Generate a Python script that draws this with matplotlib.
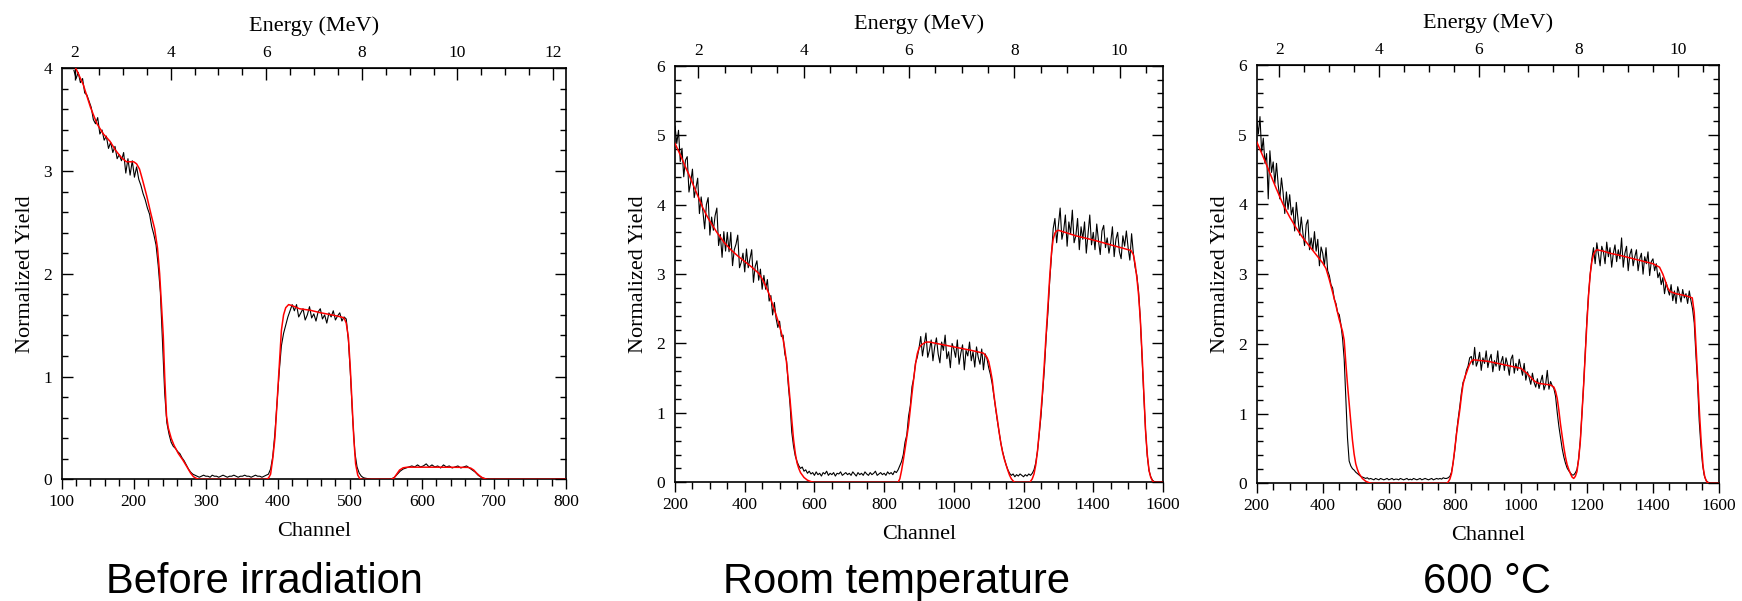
import numpy as np
import matplotlib
matplotlib.use("Agg")
import matplotlib.pyplot as plt
from matplotlib.ticker import MultipleLocator, FixedLocator

plt.rcParams['font.family'] = 'Liberation Serif'

# ---------------- Before irradiation ----------------
# measured spectrum, channels 117..519 step 3
p1_meas_a = [
    3.98, 3.90, 3.96, 3.86, 3.90, 3.76, 3.74, 3.68, 3.62, 3.50,
    3.46, 3.52, 3.36, 3.40, 3.30, 3.34, 3.22, 3.28, 3.18, 3.24,
    3.12, 3.16, 3.10, 3.18, 2.98, 3.12, 2.96, 3.10, 2.94, 3.04,
    2.92, 2.86, 2.78, 2.72, 2.64, 2.58, 2.46, 2.38, 2.28, 2.08,
    1.82, 1.32, 0.84, 0.55, 0.44, 0.36, 0.32, 0.30, 0.27, 0.25,
    0.21, 0.18, 0.14, 0.10, 0.07, 0.05, 0.04,
    0.03, 0.02, 0.03, 0.04, 0.03, 0.03, 0.02, 0.04, 0.03, 0.03,
    0.02, 0.03, 0.04, 0.03, 0.02, 0.03, 0.03, 0.04, 0.03, 0.02,
    0.03, 0.03, 0.04, 0.03, 0.03, 0.02, 0.03, 0.04, 0.03, 0.03,
    0.02, 0.03, 0.04,
    0.05, 0.10, 0.22, 0.45, 0.75, 1.05, 1.30, 1.42, 1.50, 1.58,
    1.64, 1.70,
    1.64, 1.70, 1.58, 1.62, 1.66, 1.55, 1.60, 1.68, 1.57, 1.61,
    1.54, 1.63, 1.66, 1.56, 1.60, 1.52, 1.62, 1.58, 1.64, 1.55,
    1.59, 1.62, 1.54, 1.58,
    1.56, 1.35, 1.00, 0.58, 0.26, 0.12, 0.06, 0.03, 0.015]
# channels 522..798 step 4
p1_meas_b = [
    0.01, 0.005, 0, 0, 0, 0, 0, 0, 0, 0.005,
    0.02, 0.05, 0.08, 0.10, 0.11, 0.12, 0.13, 0.12, 0.14, 0.12,
    0.13, 0.15, 0.12, 0.14, 0.12, 0.13, 0.11, 0.14, 0.12, 0.13,
    0.11, 0.12, 0.13, 0.11, 0.12, 0.13, 0.11, 0.09, 0.07, 0.04,
    0.02, 0.01, 0.005, 0, 0, 0, 0, 0, 0, 0,
    0, 0, 0, 0, 0, 0, 0, 0, 0, 0,
    0, 0, 0, 0, 0, 0, 0, 0, 0, 0]
p1_fit_ch = [118, 121, 130, 140, 149, 158, 167, 175, 183, 190,
             195, 200, 204, 208, 212, 218, 224, 229, 233, 236,
             238.5, 241, 243, 245.5, 248, 252, 256, 262, 268, 274,
             279, 283, 288, 292, 383, 387, 390, 393, 396, 399,
             402, 405, 408, 411, 415, 420, 430, 445, 460, 475,
             488, 492, 495, 498, 500.5, 503, 505.5, 508, 511, 514,
             517, 557, 561, 565, 569, 574, 580, 620, 664, 668,
             672, 676, 680, 684, 688, 692, 800]
p1_fit_y = [4.02, 3.98, 3.84, 3.62, 3.46, 3.36, 3.29, 3.20, 3.13, 3.09,
            3.09, 3.09, 3.07, 3.02, 2.92, 2.76, 2.58, 2.44, 2.25, 2.0,
            1.70, 1.40, 1.0, 0.62, 0.50, 0.40, 0.33, 0.25, 0.19, 0.12,
            0.06, 0.025, 0.005, 0, 0, 0.01, 0.05, 0.2, 0.4, 0.75,
            1.1, 1.45, 1.6, 1.67, 1.70, 1.69, 1.66, 1.645, 1.62, 1.60,
            1.58, 1.57, 1.52, 1.38, 1.1, 0.75, 0.4, 0.15, 0.04, 0.005,
            0, 0, 0.01, 0.05, 0.09, 0.112, 0.118, 0.118, 0.116, 0.108,
            0.09, 0.06, 0.035, 0.015, 0.004, 0, 0]

# ---------------- Room temperature ----------------
# measured spectrum, channels 200..1600 step 5
p2_meas = [
    5.13, 4.88, 5.07, 4.62, 4.81, 4.40, 4.64, 4.69, 4.18, 4.32,
    4.51, 4.10, 4.24, 4.38, 3.87, 4.11, 3.90, 3.65, 4.00, 4.10,
    3.56, 3.82, 3.63, 3.84, 3.95, 3.41, 3.57, 3.24, 3.61, 3.33,
    3.60, 3.32, 3.60, 3.12, 3.35, 3.43, 3.56, 3.09, 3.17, 3.30,
    3.03, 3.36, 3.09, 3.22, 3.35, 2.88, 3.11, 3.19, 2.91, 3.07,
    2.78, 2.98, 2.78, 2.92, 2.61, 2.69, 2.41, 2.59, 2.36, 2.23,
    2.32, 2.10, 2.12, 1.85, 1.75, 1.40, 1.12, 0.72, 0.52, 0.38,
    0.30, 0.24, 0.20, 0.22, 0.16, 0.18, 0.13, 0.16, 0.12, 0.14,
    0.10, 0.15, 0.11, 0.13, 0.09, 0.14, 0.12, 0.16, 0.10, 0.13,
    0.11, 0.14, 0.09, 0.13, 0.12, 0.15, 0.10, 0.12, 0.14, 0.11,
    0.13, 0.10, 0.15, 0.12, 0.09, 0.14, 0.11, 0.13, 0.10, 0.15,
    0.12, 0.10, 0.14, 0.11, 0.13, 0.16, 0.10, 0.12, 0.14, 0.11,
    0.13, 0.10, 0.15, 0.12, 0.14, 0.11, 0.16, 0.14, 0.18, 0.24,
    0.30, 0.40, 0.58, 0.68, 0.95, 1.10, 1.38, 1.50, 1.72, 1.80,
    1.93, 2.10, 1.82, 1.98, 2.15, 1.80, 1.90, 2.05, 1.75, 1.95,
    2.08, 1.85, 1.72, 2.02, 1.90, 2.12, 1.78, 1.88, 1.65, 2.00,
    1.92, 1.80, 2.05, 1.70, 1.86, 1.98, 1.62, 1.90, 1.82, 2.02,
    1.75, 1.88, 1.66, 1.95, 1.80, 1.70, 1.92, 1.62, 1.85, 1.78,
    1.65, 1.55, 1.42, 1.24, 1.06, 0.88, 0.72, 0.56, 0.44, 0.34,
    0.25, 0.18, 0.13, 0.10, 0.12, 0.08, 0.11, 0.09, 0.12, 0.10,
    0.08, 0.11, 0.09, 0.12, 0.10, 0.13, 0.18, 0.28, 0.45, 0.70,
    0.95, 1.30, 1.65, 2.10, 2.45, 2.90, 3.25, 3.65, 3.80, 3.45,
    3.70, 3.95, 3.50, 3.62, 3.85, 3.40, 3.75, 3.58, 3.92, 3.45,
    3.55, 3.80, 3.35, 3.68, 3.50, 3.75, 3.30, 3.58, 3.85, 3.42,
    3.60, 3.35, 3.72, 3.48, 3.28, 3.62, 3.70, 3.38, 3.52, 3.30,
    3.45, 3.68, 3.25, 3.50, 3.60, 3.32, 3.22, 3.55, 3.40, 3.62,
    3.38, 3.20, 3.58, 3.30, 3.10, 2.98, 2.75, 2.35, 1.80, 1.25,
    0.75, 0.38, 0.17, 0.08, 0.03, 0.01, 0.0, 0.0, 0.0, 0.0,
    0.0]
p2_fit_ch = [200, 210, 220, 230, 240, 250, 260, 270, 280, 290,
             300, 320, 340, 360, 380, 400, 420, 440, 450, 460,
             470, 480, 490, 500, 510, 515, 520, 525, 530, 535,
             540, 545, 550, 555, 560, 570, 580, 590, 600, 840,
             845, 850, 855, 860, 865, 870, 875, 880, 885, 890,
             895, 900, 905, 910, 920, 930, 950, 1000, 1050, 1085,
             1095, 1100, 1105, 1110, 1115, 1120, 1125, 1130, 1135, 1140,
             1145, 1150, 1155, 1160, 1165, 1170, 1175, 1218, 1225, 1230,
             1235, 1240, 1245, 1250, 1255, 1260, 1265, 1270, 1275, 1280,
             1285, 1290, 1295, 1300, 1350, 1400, 1450, 1500, 1508, 1515,
             1520, 1525, 1530, 1535, 1540, 1545, 1550, 1555, 1560, 1565,
             1570, 1575, 1600]
p2_fit_y = [4.88, 4.77, 4.66, 4.54, 4.43, 4.31, 4.19, 4.07, 3.95, 3.85,
            3.76, 3.60, 3.46, 3.35, 3.26, 3.18, 3.10, 3.01, 2.93, 2.83,
            2.71, 2.56, 2.41, 2.25, 2.06, 1.92, 1.72, 1.47, 1.19, 0.90,
            0.62, 0.42, 0.28, 0.20, 0.14, 0.07, 0.03, 0.01, 0, 0,
            0.05, 0.17, 0.32, 0.48, 0.65, 0.82, 1.05, 1.28, 1.50, 1.70,
            1.85, 1.93, 1.97, 1.99, 2.02, 2.02, 2.0, 1.95, 1.90, 1.86,
            1.80, 1.74, 1.62, 1.48, 1.26, 1.07, 0.90, 0.72, 0.56, 0.43,
            0.33, 0.25, 0.17, 0.10, 0.05, 0.02, 0, 0, 0.05, 0.12,
            0.25, 0.45, 0.72, 1.02, 1.35, 1.74, 2.15, 2.55, 2.95, 3.30,
            3.50, 3.59, 3.62, 3.63, 3.55, 3.49, 3.42, 3.35, 3.34, 3.28,
            3.15, 2.95, 2.70, 2.35, 1.85, 1.30, 0.75, 0.40, 0.17, 0.07,
            0.02, 0, 0]

# ---------------- 600 C ----------------
p3_meas = [
    5.22, 5.01, 5.26, 4.75, 4.95, 4.59, 4.73, 4.08, 4.77, 4.46,
    4.61, 4.30, 4.59, 4.29, 4.08, 4.38, 4.17, 3.87, 4.18, 3.93,
    4.14, 3.85, 3.96, 3.62, 4.03, 3.79, 3.56, 3.82, 3.59, 3.41,
    3.71, 3.78, 3.35, 3.52, 3.34, 3.61, 3.33, 3.50, 3.12, 3.39,
    3.30, 3.12, 3.38, 3.05, 2.98, 2.85, 2.80, 2.64, 2.58, 2.45,
    2.42, 2.28, 2.08, 1.78, 1.20, 0.65, 0.32, 0.25, 0.21, 0.19,
    0.16, 0.14, 0.12, 0.10, 0.09, 0.08, 0.07, 0.08, 0.06, 0.07,
    0.06, 0.05, 0.07, 0.06, 0.05, 0.07, 0.06, 0.05, 0.06, 0.07,
    0.05, 0.06, 0.07, 0.05, 0.06, 0.06, 0.05, 0.07, 0.06, 0.05,
    0.06, 0.07, 0.05, 0.06, 0.05, 0.07, 0.06, 0.05, 0.06, 0.07,
    0.05, 0.06, 0.07, 0.06, 0.05, 0.06, 0.07, 0.05, 0.06, 0.07,
    0.06, 0.07, 0.06, 0.08, 0.07, 0.07, 0.08, 0.10, 0.16, 0.30,
    0.48, 0.72, 0.92, 1.10, 1.30, 1.45, 1.50, 1.62, 1.68, 1.80,
    1.82, 1.70, 1.95, 1.68, 1.75, 1.88, 1.62, 1.80, 1.72, 1.90,
    1.66, 1.78, 1.85, 1.60, 1.76, 1.68, 1.90, 1.62, 1.74, 1.82,
    1.62, 1.80, 1.70, 1.55, 1.78, 1.84, 1.58, 1.72, 1.62, 1.78,
    1.66, 1.55, 1.72, 1.48, 1.60, 1.52, 1.42, 1.58, 1.45, 1.38,
    1.50, 1.36, 1.46, 1.55, 1.34, 1.42, 1.62, 1.35, 1.46, 1.40,
    1.36, 1.25, 1.02, 0.82, 0.66, 0.50, 0.38, 0.29, 0.22, 0.18,
    0.15, 0.12, 0.12, 0.15, 0.20, 0.35, 0.62, 1.00, 1.42, 1.88,
    2.35, 2.72, 3.00, 3.22, 3.38, 3.15, 3.45, 3.28, 3.12, 3.40,
    3.32, 3.15, 3.46, 3.25, 3.38, 3.10, 3.30, 3.42, 3.18, 3.35,
    3.22, 3.52, 3.10, 3.30, 3.40, 3.05, 3.28, 3.36, 3.12, 3.25,
    3.35, 3.05, 3.22, 3.30, 3.00, 3.25, 3.15, 3.32, 2.98, 3.18,
    3.22, 3.05, 3.15, 2.95, 3.02, 2.85, 2.95, 2.72, 2.88, 2.78,
    2.70, 2.85, 2.62, 2.76, 2.58, 2.82, 2.72, 2.60, 2.78, 2.66,
    2.72, 2.58, 2.76, 2.62, 2.50, 2.30, 1.85, 1.45, 0.90, 0.55,
    0.28, 0.12, 0.05, 0.02, 0.01, 0.0, 0.0, 0.0, 0.0, 0.0,
    0.0]
p3_fit_ch = [200, 220, 240, 260, 280, 300, 320, 340, 360, 380,
             400, 410, 420, 430, 440, 450, 460, 465, 470, 475,
             480, 485, 490, 495, 500, 505, 510, 520, 530, 540,
             550, 775, 780, 785, 790, 795, 800, 805, 810, 815,
             820, 825, 830, 835, 840, 845, 850, 855, 860, 900,
             950, 1000, 1010, 1020, 1030, 1040, 1050, 1060, 1090, 1100,
             1105, 1110, 1115, 1120, 1125, 1130, 1135, 1140, 1145, 1150,
             1155, 1160, 1165, 1170, 1175, 1180, 1185, 1190, 1195, 1200,
             1205, 1210, 1215, 1220, 1225, 1230, 1250, 1270, 1300, 1350,
             1400, 1420, 1430, 1436, 1445, 1452, 1470, 1500, 1519, 1525,
             1530, 1535, 1541, 1546, 1552, 1557, 1563, 1570, 1600]
p3_fit_y = [4.90, 4.68, 4.45, 4.22, 4.00, 3.82, 3.66, 3.52, 3.40, 3.28,
            3.16, 3.08, 2.92, 2.74, 2.55, 2.35, 2.18, 2.05, 1.72, 1.42,
            1.15, 0.88, 0.62, 0.42, 0.28, 0.20, 0.14, 0.07, 0.03, 0.01,
            0, 0, 0.02, 0.06, 0.14, 0.30, 0.50, 0.70, 0.88, 1.05,
            1.25, 1.42, 1.52, 1.58, 1.65, 1.71, 1.75, 1.77, 1.77, 1.75,
            1.70, 1.65, 1.61, 1.57, 1.52, 1.47, 1.44, 1.43, 1.41, 1.38,
            1.32, 1.22, 1.05, 0.85, 0.68, 0.52, 0.38, 0.27, 0.20, 0.14,
            0.09, 0.07, 0.10, 0.17, 0.35, 0.60, 1.0, 1.40, 1.85, 2.30,
            2.70, 3.00, 3.18, 3.28, 3.33, 3.35, 3.33, 3.30, 3.27, 3.21,
            3.15, 3.10, 3.00, 2.92, 2.80, 2.75, 2.72, 2.69, 2.66, 2.45,
            2.0, 1.55, 1.0, 0.6, 0.23, 0.09, 0.02, 0, 0]

# energy calibration E = gain*channel + offset
p1_gain, p1_offset = 0.01507, 0.214
p2_gain, p2_offset = 0.006618, 0.2343
p3_gain, p3_offset = 0.006627, 0.2213

captions = ["Before irradiation", "Room temperature", "600 \u00b0C"]

p1_ch_a = np.arange(117, 520, 3)
p1_ch_b = np.arange(522, 799, 4)
p1_ch = np.concatenate([p1_ch_a, p1_ch_b])
p1_meas = np.concatenate([p1_meas_a, p1_meas_b])
p23_ch = np.arange(200, 1601, 5)

fig = plt.figure(figsize=(17.42, 6.01), dpi=100)

panels = [
    ([0.0354, 0.2025, 0.2895, 0.6839], p1_ch, p1_meas, p1_fit_ch, p1_fit_y,
     (100, 800), 100, 20, 4, p1_gain, p1_offset),
    ([0.3875, 0.1975, 0.2801, 0.6932], p23_ch, p2_meas, p2_fit_ch, p2_fit_y,
     (200, 1600), 200, 50, 6, p2_gain, p2_offset),
    ([0.7214, 0.1958, 0.2654, 0.6960], p23_ch, p3_meas, p3_fit_ch, p3_fit_y,
     (200, 1600), 200, 50, 6, p3_gain, p3_offset),
]

for rect, ch, meas, fch, fy, xlim, xmaj, xmin, ytop, g, o in panels:
    ax = fig.add_axes(rect)
    ax.plot(ch, meas, color='black', lw=0.8, zorder=2)
    ax.plot(fch, fy, color='red', lw=1.1, zorder=3)
    ax.set_xlim(*xlim)
    ax.set_ylim(0, ytop)
    ax.xaxis.set_major_locator(MultipleLocator(xmaj))
    ax.xaxis.set_minor_locator(MultipleLocator(xmin))
    ax.yaxis.set_major_locator(MultipleLocator(1))
    ax.yaxis.set_minor_locator(MultipleLocator(0.2))
    ax.tick_params(axis='x', which='both', direction='out', top=False,
                   labelsize=12.5, pad=3, width=1)
    ax.tick_params(axis='x', which='major', length=7.5)
    ax.tick_params(axis='x', which='minor', length=5)
    ax.tick_params(axis='y', which='both', direction='in', left=True,
                   right=True, labelsize=12.5, pad=7, width=1)
    ax.tick_params(axis='y', which='major', length=8)
    ax.tick_params(axis='y', which='minor', length=4)
    for s in ax.spines.values():
        s.set_linewidth(1.2)
    ax.set_xlabel('Channel', fontsize=16, labelpad=9)
    ax.set_ylabel('Normalized Yield', fontsize=16, labelpad=6)

    sec = ax.secondary_xaxis('top', functions=(lambda c, g=g, o=o: g * c + o,
                                               lambda e, g=g, o=o: (e - o) / g))
    e_lo, e_hi = g * xlim[0] + o, g * xlim[1] + o
    e_major = [e for e in range(2, 13, 2) if e_lo <= e <= e_hi]
    e_minor = [e for e in np.arange(1.5, 13.01, 0.5) if e_lo <= e <= e_hi]
    sec.xaxis.set_major_locator(FixedLocator(e_major))
    sec.xaxis.set_minor_locator(FixedLocator(e_minor))
    sec.tick_params(which='both', direction='in', labelsize=12.5, pad=5, width=1)
    sec.tick_params(which='major', length=8.5)
    sec.tick_params(which='minor', length=5)
    sec.set_xlabel('Energy (MeV)', fontsize=16, labelpad=10)

cap_x = [0.1518, 0.5144, 0.8536]
for cx, txt in zip(cap_x, captions):
    fig.text(cx, 0.0133, txt, ha='center', va='baseline', fontsize=30,
             family='Liberation Sans')

fig.savefig('out.png', dpi=100)
